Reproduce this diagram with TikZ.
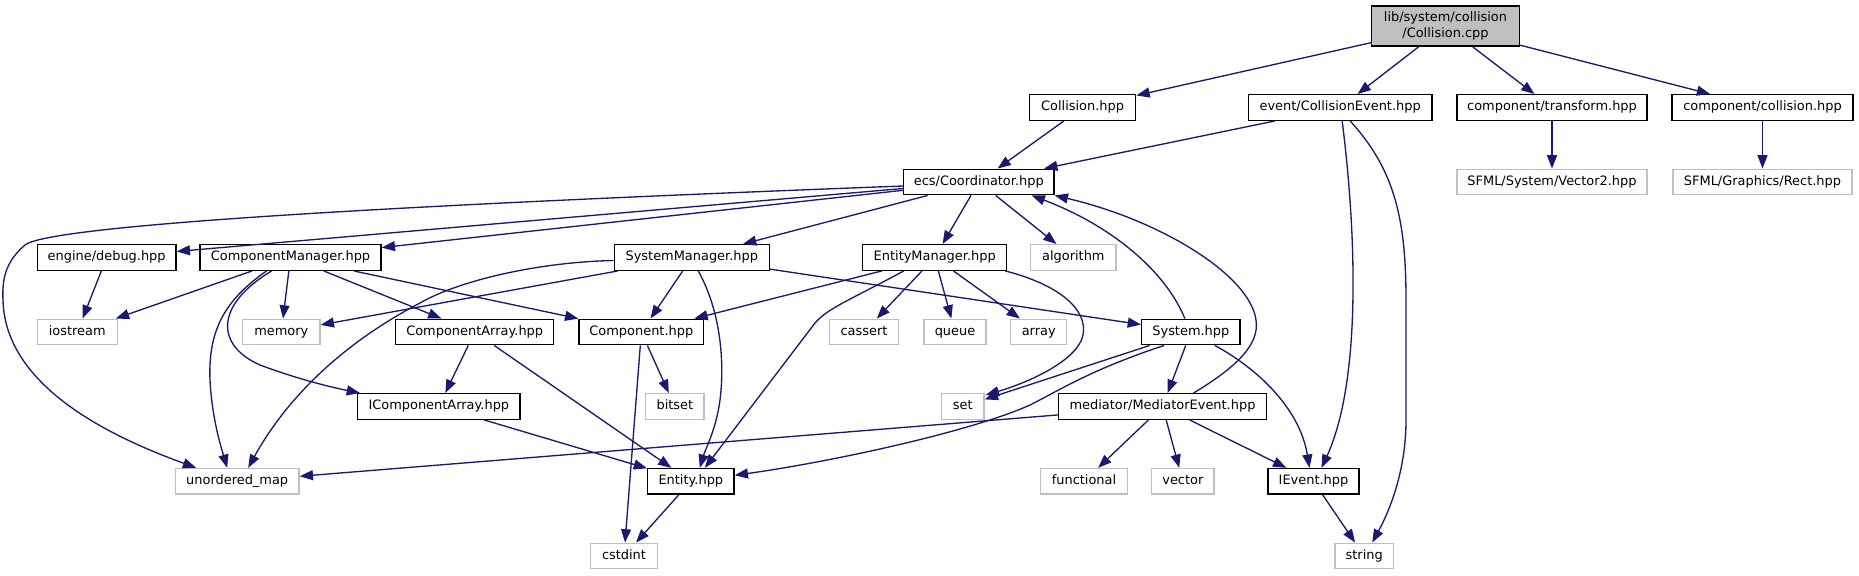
\documentclass[tikz,border=0pt]{standalone}
\usepackage{fontspec}
\setmainfont{DejaVu Sans}
\usetikzlibrary{arrows.meta,calc}
\definecolor{edgeblue}{HTML}{191970}
\definecolor{greyseventyfive}{HTML}{BFBFBF}
\newcommand{\gvnode}[5]{\node[#1, minimum width={#5*0.75pt}] (#2) at (#3) {#4};}
\begin{document}
\begin{tikzpicture}[x=0.75pt,y=-0.75pt,
  font=\fontsize{9.7}{11.5}\selectfont,
  nd/.style={draw=black, line width=1pt, fill=white, inner sep=0pt, minimum height=19.2pt, text=black},
  inc/.style={nd, text height=7.2pt, text depth=2.1pt},
  ext/.style={inc, draw=greyseventyfive},
  root/.style={nd, fill=greyseventyfive, align=center, minimum height=30.2pt},
  edge/.style={draw=edgeblue, line width=1pt, -{Triangle[length=10pt,width=7.5pt]}}]
\useasboundingbox (0,0) rectangle (1859,575);
% nodes
\gvnode{root}{cpp}{1445.5,26}{lib/system/collision\\/Collision.cpp}{148}
\gvnode{inc}{colh}{1082.6,107.5}{Collision.hpp}{106.2}
\gvnode{inc}{cev}{1340.15,107.5}{event/CollisionEvent.hpp}{183.7}
\gvnode{inc}{ctr}{1552,107.5}{component/transform.hpp}{190}
\gvnode{inc}{ccol}{1762.5,107.5}{component/collision.hpp}{181}
\gvnode{inc}{coord}{978.8,182}{ecs/Coordinator.hpp}{150.4}
\gvnode{ext}{vec2}{1552,182}{SFML/System/Vector2.hpp}{190}
\gvnode{ext}{rect}{1762.5,182}{SFML/Graphics/Rect.hpp}{179}
\gvnode{inc}{debug}{106.65,257.5}{engine/debug.hpp}{138.7}
\gvnode{inc}{cmgr}{290.5,257.5}{ComponentManager.hpp}{181}
\gvnode{inc}{smgr}{691.8,257.5}{SystemManager.hpp}{155}
\gvnode{inc}{emgr}{934.7,257.5}{EntityManager.hpp}{144}
\gvnode{ext}{algo}{1073.35,257.5}{algorithm}{85.3}
\gvnode{ext}{iostream}{77.3,332}{iostream}{80}
\gvnode{ext}{memory}{281.35,332}{memory}{77.3}
\gvnode{inc}{carr}{474.7,332}{ComponentArray.hpp}{158}
\gvnode{inc}{comp}{641.35,332}{Component.hpp}{124.7}
\gvnode{ext}{cassert}{864,332}{cassert}{69.4}
\gvnode{ext}{queue}{955,332}{queue}{62}
\gvnode{ext}{array}{1038.7,332}{array}{56}
\gvnode{inc}{system}{1190.85,332}{System.hpp}{98.3}
\gvnode{inc}{icarr}{438.85,406.5}{IComponentArray.hpp}{162.3}
\gvnode{ext}{bitset}{674.85,406.5}{bitset}{58.3}
\gvnode{ext}{set}{962.85,406.5}{set}{42.3}
\gvnode{inc}{med}{1162.5,406.5}{mediator/MediatorEvent.hpp}{208}
\gvnode{ext}{umap}{237.2,481.3}{unordered\_map}{123.6}
\gvnode{inc}{entity}{690.85,481.3}{Entity.hpp}{86.3}
\gvnode{ext}{functional}{1084,481.3}{functional}{86.6}
\gvnode{ext}{vector}{1182.85,481.3}{vector}{62.3}
\gvnode{inc}{ievent}{1313.5,481.3}{IEvent.hpp}{91}
\gvnode{ext}{cstdint}{624,556}{cstdint}{66.6}
\gvnode{ext}{string}{1364.2,556}{string}{58.4}
% straight edges
\draw[edge] (cpp) -- (colh);
\draw[edge] (cpp) -- (cev);
\draw[edge] (cpp) -- (ctr);
\draw[edge] (cpp) -- (ccol);
\draw[edge] (colh) -- (coord);
\draw[edge] (cev) -- (coord);
\draw[edge] (ctr) -- (vec2);
\draw[edge] (ccol) -- (rect);
\draw[edge] (coord) -- (debug);
\draw[edge] (coord) -- (cmgr);
\draw[edge] (coord) -- (smgr);
\draw[edge] (coord) -- (emgr);
\draw[edge] (coord) -- (algo);
\draw[edge] (debug) -- (iostream);
\draw[edge] (cmgr) -- (iostream);
\draw[edge] (cmgr) -- (memory);
\draw[edge] (cmgr) -- (carr);
\draw[edge] (cmgr) -- (comp);
\draw[edge] (smgr) -- (memory);
\draw[edge] (smgr) -- (comp);
\draw[edge] (smgr) -- (system);
\draw[edge] (emgr) -- (comp);
\draw[edge] (emgr) -- (cassert);
\draw[edge] (emgr) -- (queue);
\draw[edge] (emgr) -- (array);
\draw[edge] (carr) -- (icarr);
\draw[edge] (carr) -- (entity);
\draw[edge] (comp) -- (bitset);
\draw[edge] (comp) -- (cstdint);
\draw[edge] (icarr) -- (entity);
\draw[edge] (system) -- (set);
\draw[edge] (system) -- (med);
\draw[edge] (med) -- (umap);
\draw[edge] (med) -- (functional);
\draw[edge] (med) -- (vector);
\draw[edge] (med) -- (ievent);
\draw[edge] (entity) -- (cstdint);
\draw[edge] (ievent) -- (string);
% curved edges
\draw[edge] ($(cev.south)+(2,0)$) .. controls (1356,230) and (1362,380) .. ($(ievent.north)+(8,0)$);
\draw[edge] ($(cev.south)+(10,0)$) .. controls (1395,170) and (1406,220) .. (1406,300) -- (1406,420) .. controls (1406,470) and (1390,510) .. ($(string.north)+(8,0)$);
\draw[edge] ($(coord.west)+(0,4)$) .. controls (400,205) and (50,225) .. (25,245) .. controls (5,262) and (2,280) .. (3,300) .. controls (5,390) and (120,440) .. ($(umap.north)+(-41,0)$);
\draw[edge] ($(cmgr.south)+(-24,0)$) .. controls (225,300) and (208,330) .. (210,380) .. controls (212,420) and (222,450) .. ($(umap.north)+(-10,0)$);
\draw[edge] ($(cmgr.south)+(-19,0)$) .. controls (215,305) and (215,345) .. (260,365) .. controls (300,380) and (335,388) .. ($(icarr.north west)+(3,0)$);
\draw[edge] ($(smgr.west)+(0,3)$) .. controls (540,262) and (460,280) .. (420,303) .. controls (330,350) and (280,410) .. ($(umap.north)+(11,0)$);
\draw[edge] ($(smgr.south)+(6.5,0)$) .. controls (720,310) and (725,360) .. (720,400) .. controls (716,430) and (705,450) .. ($(entity.north)+(9,0)$);
\draw[edge] ($(emgr.south)+(-31,0)$) .. controls (850,300) and (828,308) .. (815,323) -- ($(entity.north)+(14,0)$);
\draw[edge] ($(emgr.south east)+(-2,0)$) .. controls (1060,285) and (1088,310) .. (1083,335) .. controls (1078,360) and (1030,382) .. ($(set.north east)+(1,2)$);
\draw[edge] ($(system.north)+(-6,0)$) .. controls (1165,270) and (1110,225) .. ($(coord.south east)+(-23,0)$);
\draw[edge] ($(med.north)+(31,0)$) .. controls (1235,368) and (1260,345) .. (1256,320) .. controls (1250,275) and (1160,220) .. (coord.south east);
\draw[edge] ($(system.south west)+(23,0)$) .. controls (1090,370) and (1060,390) .. (1030,405) .. controls (970,432) and (830,462) .. ($(entity.east)+(0,-6)$);
\draw[edge] ($(system.south)+(24,0)$) .. controls (1260,370) and (1300,410) .. ($(ievent.north)+(-4,0)$);
\end{tikzpicture}
\end{document}
